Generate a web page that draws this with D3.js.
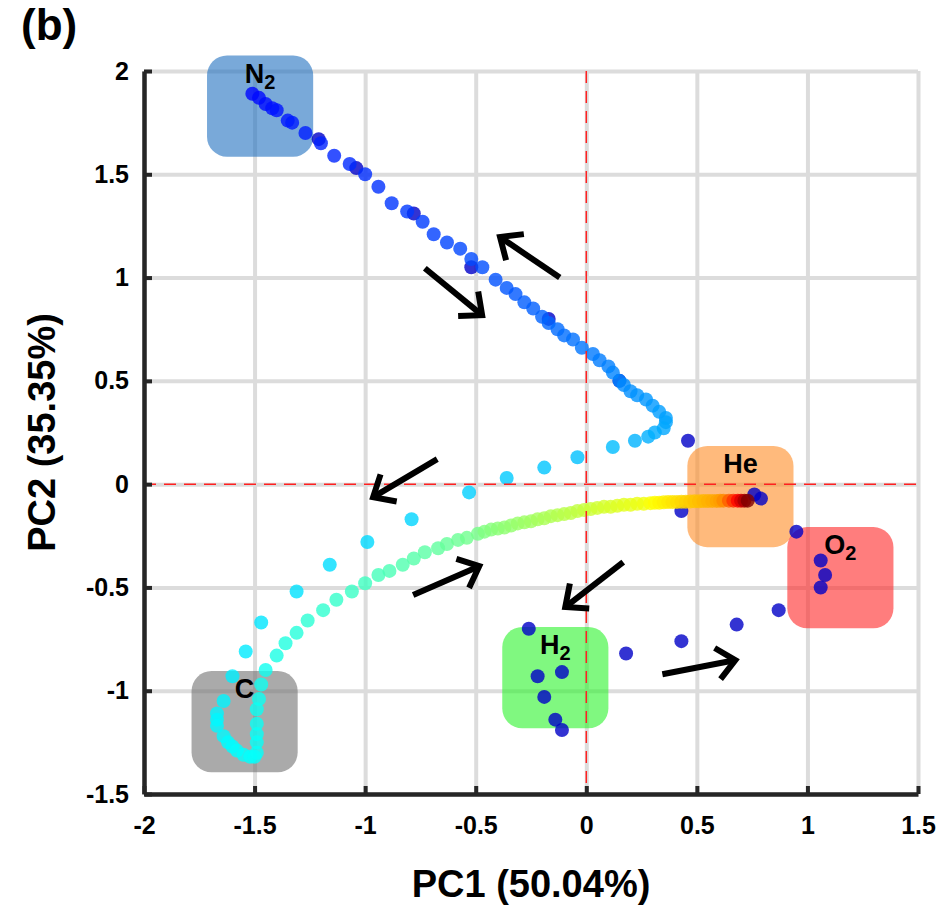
<!DOCTYPE html>
<html>
<head>
<meta charset="utf-8">
<script src="https://cdn.jsdelivr.net/npm/d3@7"></script>
<style>
  body { margin: 0; background: #fff; }
  text { font-family: "Liberation Sans", Arial, sans-serif; font-weight: bold; fill: #000; }
</style>
</head>
<body>
<script>
(function(){

    //tick values
    var xTicks = [-2, -1.5, -1, -0.5, 0, 0.5, 1, 1.5];
    var yTicks = [-1.5, -1, -0.5, 0, 0.5, 1, 1.5, 2];

    //trajectory legs as [PC1, PC2] pairs, in time order
    var legN2 = [[-1.51,1.89],[-1.48,1.87],[-1.45,1.84],[-1.42,1.82],[-1.40,1.81],[-1.35,1.76],[-1.33,1.75],
        [-1.27,1.70],[-1.20,1.65],[-1.14,1.59],[-1.07,1.55],[-1.00,1.50],[-0.94,1.44],[-0.88,1.36],[-0.81,1.32],
        [-0.74,1.27],[-0.69,1.21],[-0.63,1.17],[-0.57,1.14],[-0.52,1.09],[-0.47,1.05],[-0.41,0.99],[-0.36,0.95],
        [-0.32,0.92],[-0.28,0.88],[-0.24,0.85],[-0.20,0.81],[-0.17,0.78],[-0.13,0.75],[-0.10,0.72],[-0.06,0.70],
        [-0.02,0.66],[0.03,0.63],[0.06,0.60],[0.10,0.57],[0.12,0.54],[0.15,0.50],[0.17,0.48],[0.20,0.45],
        [0.23,0.43],[0.27,0.41],[0.30,0.38],[0.33,0.35],[0.36,0.32],[0.36,0.30],[0.35,0.27],[0.31,0.25],
        [0.28,0.23],[0.22,0.21]];
    var legReturn = [[0.12,0.18],[-0.04,0.13],[-0.19,0.08],[-0.36,0.03],[-0.53,-0.04],[-0.79,-0.17],
        [-0.99,-0.28],[-1.16,-0.39],[-1.31,-0.52],[-1.47,-0.67],[-1.54,-0.81],[-1.60,-0.93]];
    var legC = [[-1.64,-1.05],[-1.67,-1.11],[-1.67,-1.14],[-1.67,-1.17],[-1.64,-1.22],[-1.62,-1.25],[-1.60,-1.27],
        [-1.58,-1.29],[-1.55,-1.31],[-1.52,-1.32],[-1.50,-1.32],[-1.49,-1.30],[-1.49,-1.25],[-1.49,-1.21],
        [-1.49,-1.16],[-1.49,-1.09],[-1.48,-1.04],[-1.47,-0.97],[-1.45,-0.90]];
    var legRise = [[-1.40,-0.83],[-1.36,-0.77],[-1.31,-0.72],[-1.26,-0.66],[-1.19,-0.61],[-1.13,-0.56],
        [-1.06,-0.52],[-1.00,-0.48],[-0.94,-0.44],[-0.89,-0.42],[-0.83,-0.39],[-0.78,-0.36],[-0.73,-0.33],
        [-0.67,-0.31],[-0.63,-0.29],[-0.58,-0.27],[-0.54,-0.26],[-0.49,-0.24]];
    var legGreen = [[-0.46,-0.23],[-0.43,-0.22],[-0.40,-0.215],[-0.37,-0.21],[-0.34,-0.20],[-0.31,-0.19],
        [-0.28,-0.185],[-0.25,-0.18],[-0.22,-0.17],[-0.19,-0.165],[-0.16,-0.155],[-0.13,-0.15],[-0.10,-0.145],
        [-0.07,-0.14],[-0.04,-0.13],[-0.01,-0.125],[0.02,-0.12],[0.05,-0.115],[0.08,-0.11],[0.11,-0.11],
        [0.14,-0.105],[0.17,-0.10],[0.20,-0.10],[0.23,-0.095],[0.26,-0.095]];
    var legHe = [[0.29,-0.092],[0.31,-0.09],[0.33,-0.09],[0.35,-0.088],[0.37,-0.087],[0.39,-0.087],[0.41,-0.086],
        [0.43,-0.085],[0.45,-0.085],[0.47,-0.084],[0.49,-0.083],[0.51,-0.083],[0.53,-0.082],[0.55,-0.082],
        [0.57,-0.081],[0.59,-0.081],[0.605,-0.08]];
    var legHeEnd = [[0.62,-0.08],[0.645,-0.08],[0.665,-0.08],[0.685,-0.08],[0.70,-0.08],[0.715,-0.08],
        [0.73,-0.08]];
    var legs = [legN2, legReturn, legC, legRise, legGreen, legHe, legHeEnd];
    //jet colormap position at the start and end of each leg
    var legColorStart = [0.13, 0.31, 0.365, 0.40, 0.50, 0.62, 0.74];
    var legColorEnd   = [0.30, 0.36, 0.39, 0.49, 0.61, 0.72, 1.00];

    //second cycle points (dark blue)
    var cyclePts = [[-1.21,1.67],[-1.04,1.53],[-0.78,1.31],[-0.52,1.05],[-0.17,0.80],[0.15,0.50],[0.46,0.21],
        [0.43,-0.13],[0.76,-0.05],[0.79,-0.07],[0.95,-0.23],[1.06,-0.37],[1.08,-0.44],[1.06,-0.50],
        [0.87,-0.61],[0.68,-0.68],[0.43,-0.76],[0.18,-0.82],[-0.26,-0.70],[-0.22,-0.93],[-0.11,-0.91],
        [-0.19,-1.03],[-0.14,-1.14],[-0.11,-1.19]];

    //gas boxes: name, subscript, centre
    var boxNames = ["N", "He", "O", "H", "C"];
    var boxSubs  = ["2", "", "2", "2", ""];
    var boxCx    = [-1.475, 0.697, 1.149, -0.14, -1.545];
    var boxCy    = [1.83, -0.06, -0.453, -0.937, -1.15];
    var boxColors = ["#1f6fbf", "#ff8c25", "#ff2626", "#2bf32b", "#717171"];
    var boxW = 0.48, boxH = 0.49;

    //arrows: tail and head positions
    var arrowTail = [[-0.12,1.00],[-0.73,1.045],[-0.674,0.121],[-0.783,-0.537],[0.167,-0.378],[0.344,-0.92]];
    var arrowHead = [[-0.39,1.196],[-0.471,0.818],[-0.964,-0.063],[-0.484,-0.397],[-0.095,-0.595],[0.674,-0.852]];

    var width = 941, height = 906;
    var margin = {top: 71, right: 23, bottom: 112, left: 144};
    var plotW = width - margin.left - margin.right,
        plotH = height - margin.top - margin.bottom;

    var svg = d3.select("body")
        .append("svg")
        .attr("width", width)
        .attr("height", height);

    var g = svg.append("g")
        .attr("transform", "translate(" + margin.left + "," + margin.top + ")");

    var x = d3.scaleLinear().domain([-2, 1.5]).range([0, plotW]);
    var y = d3.scaleLinear().domain([-1.5, 2]).range([plotH, 0]);

    //jet colormap
    var jet = d3.scaleLinear()
        .domain([0, 0.125, 0.375, 0.625, 0.875, 1])
        .range(["#00007f", "#0000ff", "#00ffff", "#ffff00", "#ff0000", "#7f0000"]);

    //grid
    g.append("g")
        .attr("class", "xgrid")
        .attr("transform", "translate(0," + plotH + ")")
        .call(d3.axisBottom(x).tickValues(xTicks).tickSize(-plotH).tickFormat(""))
        .call(function(s) {
            s.select(".domain").remove();
            s.selectAll("line").attr("stroke", "#dcdcdc").attr("stroke-width", 4);
        });
    g.append("g")
        .attr("class", "ygrid")
        .call(d3.axisLeft(y).tickValues(yTicks).tickSize(-plotW).tickFormat(""))
        .call(function(s) {
            s.select(".domain").remove();
            s.selectAll("line").attr("stroke", "#dcdcdc").attr("stroke-width", 4);
        });

    //boxes
    var boxes = g.append("g").attr("class", "boxes");
    boxNames.forEach(function(name, i) {
        var x0 = x(boxCx[i] - boxW / 2), x1 = x(boxCx[i] + boxW / 2);
        var y0 = y(boxCy[i] + boxH / 2), y1 = y(boxCy[i] - boxH / 2);
        boxes.append("rect")
            .attr("x", x0).attr("y", y0)
            .attr("width", x1 - x0).attr("height", y1 - y0)
            .attr("rx", 20).attr("ry", 20)
            .attr("fill", boxColors[i])
            .attr("fill-opacity", 0.6);
    });

    //second cycle points underneath
    g.append("g").selectAll("circle")
        .data(cyclePts)
        .enter()
        .append("circle")
        .attr("cx", function(d) { return x(d[0]); })
        .attr("cy", function(d) { return y(d[1]); })
        .attr("r", 7)
        .attr("fill", jet(0.07))
        .attr("fill-opacity", 0.8);

    //main trajectory coloured by time
    var traj = g.append("g").attr("class", "traj");
    legs.forEach(function(leg, li) {
        var col = d3.scaleLinear()
            .domain([0, leg.length - 1])
            .range([legColorStart[li], legColorEnd[li]]);
        traj.selectAll(".leg" + li)
            .data(leg)
            .enter()
            .append("circle")
            .attr("class", "leg" + li)
            .attr("cx", function(d) { return x(d[0]); })
            .attr("cy", function(d) { return y(d[1]); })
            .attr("r", 7)
            .attr("fill", function(d, i) { return jet(col(i)); })
            .attr("fill-opacity", 0.8);
    });

    //red dashed zero lines
    g.append("line")
        .attr("x1", x(0)).attr("x2", x(0))
        .attr("y1", 0).attr("y2", plotH)
        .attr("stroke", "#ff2020").attr("stroke-width", 1.5)
        .attr("stroke-dasharray", "12,8");
    g.append("line")
        .attr("x1", 0).attr("x2", plotW)
        .attr("y1", y(0)).attr("y2", y(0))
        .attr("stroke", "#ff2020").attr("stroke-width", 1.5)
        .attr("stroke-dasharray", "12,8");

    //axes (plain hyphen minus signs)
    var fmt = function(d) { return String(d); };
    var xAxis = g.append("g")
        .attr("transform", "translate(0," + plotH + ")")
        .call(d3.axisBottom(x).tickValues(xTicks).tickSize(-8).tickPadding(22).tickSizeOuter(0)
            .tickFormat(fmt));
    var yAxis = g.append("g")
        .call(d3.axisLeft(y).tickValues(yTicks).tickSize(-8).tickPadding(15).tickSizeOuter(0)
            .tickFormat(fmt));
    [xAxis, yAxis].forEach(function(a) {
        a.select(".domain").attr("stroke", "#262626").attr("stroke-width", 4.5);
        a.selectAll(".tick line").attr("stroke", "#262626").attr("stroke-width", 4);
        a.selectAll(".tick text")
            .style("font-size", "25px")
            .style("font-family", "'Liberation Sans', Arial, sans-serif")
            .style("font-weight", "bold")
            .attr("fill", "#000");
    });

    //arrows
    var arrows = g.append("g").attr("class", "arrows");
    arrowTail.forEach(function(t, i) {
        var tx = x(t[0]), ty = y(t[1]);
        var hx = x(arrowHead[i][0]), hy = y(arrowHead[i][1]);
        var ang = Math.atan2(hy - ty, hx - tx);
        var L = 24, spread = 0.72;
        var a1 = [hx - L * Math.cos(ang - spread), hy - L * Math.sin(ang - spread)];
        var a2 = [hx - L * Math.cos(ang + spread), hy - L * Math.sin(ang + spread)];
        arrows.append("line")
            .attr("x1", tx).attr("y1", ty)
            .attr("x2", hx - 2 * Math.cos(ang)).attr("y2", hy - 2 * Math.sin(ang))
            .attr("stroke", "#000").attr("stroke-width", 6);
        arrows.append("path")
            .attr("d", "M" + a1 + "L" + hx + "," + hy + "L" + a2)
            .attr("fill", "none")
            .attr("stroke", "#000").attr("stroke-width", 6)
            .attr("stroke-linejoin", "miter");
    });

    //box labels
    var labels = g.append("g").attr("class", "labels");
    boxNames.forEach(function(name, i) {
        var t = labels.append("text")
            .attr("x", x(boxCx[i]))
            .attr("y", y(boxCy[i] + boxH / 2) + 27)
            .attr("text-anchor", "middle")
            .style("font-size", "27px")
            .text(name);
        if (boxSubs[i]) {
            t.append("tspan")
                .attr("dy", 6)
                .style("font-size", "20px")
                .text(boxSubs[i]);
        }
    });

    //axis titles
    svg.append("text")
        .attr("x", margin.left + plotW / 2)
        .attr("y", 897)
        .attr("text-anchor", "middle")
        .style("font-size", "38px")
        .text("PC1 (50.04%)");
    svg.append("text")
        .attr("transform", "translate(55," + (margin.top + plotH / 2) + ") rotate(-90)")
        .attr("text-anchor", "middle")
        .style("font-size", "38px")
        .text("PC2 (35.35%)");

    //panel label
    svg.append("text")
        .attr("x", 21)
        .attr("y", 40)
        .style("font-size", "44px")
        .text("(b)");
})();
</script>
</body>
</html>
